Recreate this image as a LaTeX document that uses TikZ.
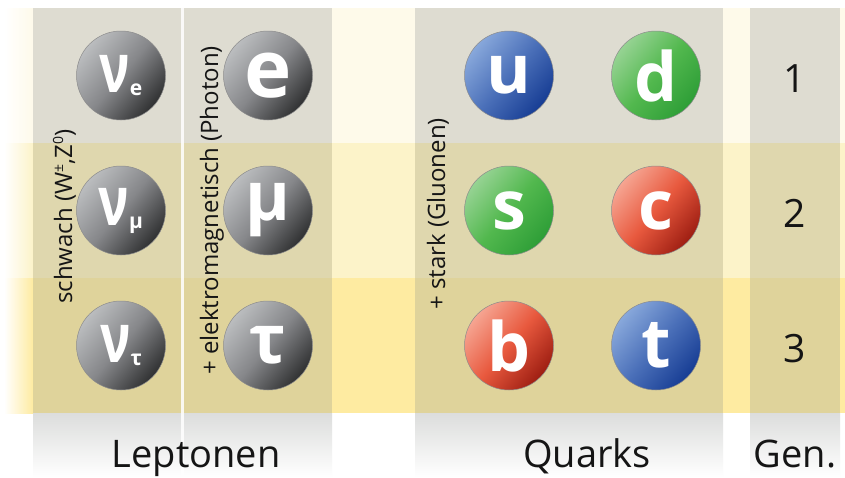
\documentclass[tikz,border=0pt]{standalone}
\usepackage{fontspec}
\usepackage{graphicx}
\setmainfont{Open Sans}
\definecolor{bandA}{HTML}{FEFAEA}
\definecolor{bandB}{HTML}{FCF3C9}
\definecolor{bandC}{HTML}{FEEBA1}
\definecolor{colA}{HTML}{DEDCD1}
\definecolor{colB}{HTML}{DFD7AE}
\definecolor{colC}{HTML}{DFD39B}
\definecolor{hdr}{HTML}{DCDDDC}
\definecolor{grayL}{HTML}{BBBDBF}
\definecolor{grayM}{HTML}{86878A}
\definecolor{grayD}{HTML}{303132}
\definecolor{blueL}{HTML}{88A8DB}
\definecolor{blueM}{HTML}{4B70B9}
\definecolor{blueD}{HTML}{173D94}
\definecolor{greenL}{HTML}{96D393}
\definecolor{greenM}{HTML}{52B84E}
\definecolor{greenD}{HTML}{2E9E37}
\definecolor{redL}{HTML}{F6A592}
\definecolor{redM}{HTML}{E8593E}
\definecolor{redD}{HTML}{9E1E12}
\definecolor{txt}{HTML}{151515}
\newcommand{\ballsize}{\fontsize{68}{68}\selectfont\bfseries}
\newcommand{\subs}[1]{\raisebox{-3pt}{\fontsize{21}{21}\selectfont #1}}
\newcommand{\nuglyph}{\scalebox{0.75}[1]{ν}}
\newcommand{\supr}[1]{\raisebox{9pt}{\fontsize{14}{14}\selectfont #1}}
\tikzset{
  ball/.style={circle, minimum size=89pt, inner sep=0pt, draw=black!45,
    line width=0.5pt, text=white, font=\ballsize},
  grayball/.style={ball, top color=grayL, bottom color=grayD, middle color=grayM, shading angle=50},
  blueball/.style={ball, top color=blueL, bottom color=blueD, middle color=blueM, shading angle=50},
  greenball/.style={ball, top color=greenL, bottom color=greenD, middle color=greenM, shading angle=50},
  redball/.style={ball, top color=redL, bottom color=redD, middle color=redM, shading angle=50},
  gennum/.style={inner sep=0pt, text=txt, font=\fontsize{39}{39}\selectfont},
  headlabel/.style={anchor=base, inner sep=0pt, text=txt, font=\fontsize{38}{38}\selectfont},
  forcelabel/.style={rotate=90, anchor=base west, inner sep=0pt, text=txt,
    font=\fontsize{24}{24}\selectfont}
}
\begin{document}
\begin{tikzpicture}[x=1pt,y=-1pt]
\useasboundingbox (0,0) rectangle (845,477);
\fill[white] (0,0) rectangle (845,477);
% generation bands
\fill[bandA] (33,8) rectangle (845,143);
\fill[bandB] (33,143) rectangle (845,278);
\fill[bandC] (33,278) rectangle (845,413);
\shade[left color=white, right color=bandA] (4,8) rectangle (33,143);
\shade[left color=white, right color=bandB] (4,143) rectangle (33,278);
\shade[left color=white, right color=bandC] (4,278) rectangle (33,413);
% columns
\foreach \xa/\xb in {33/332, 415/723, 750/840}{
  \fill[colA] (\xa,8) rectangle (\xb,143);
  \fill[colB] (\xa,143) rectangle (\xb,278);
  \fill[colC] (\xa,278) rectangle (\xb,413);
  \shade[top color=hdr, bottom color=white] (\xa,413) rectangle (\xb,477);
}
\fill[white, opacity=0.85] (180.5,8) rectangle (183.5,477);
% leptons
\node[grayball] (nue) at (121,75.5) {\nuglyph\subs{e}};
\node[grayball] (e) at (268,75.5) {\fontsize{80}{80}\selectfont e};
\node[grayball] (numu) at (121,210.5) {\nuglyph\subs{μ}};
\node[grayball] (mu) at (268,210.5) {μ};
\node[grayball] (nutau) at (121,345.5) {\nuglyph\subs{τ}};
\node[grayball] (tau) at (268,345.5) {τ};
% quarks
\node[blueball] (u) at (509,75.5) {u};
\node[greenball] (d) at (656,75.5) {d};
\node[greenball] (s) at (509,210.5) {s};
\node[redball] (c) at (656,210.5) {c};
\node[redball] (b) at (509,345.5) {b};
\node[blueball] (t) at (656,345.5) {t};
% generations
\node[gennum] (g1) at (795,79) {1};
\node[gennum] (g2) at (795,213) {2};
\node[gennum] (g3) at (795,349) {3};
% headings
\node[headlabel] (lep) at (196,467) {Leptonen};
\node[headlabel] (qua) at (587,467) {Quarks};
\node[headlabel] (gen) at (795,467) {Gen.};
% interactions
\node[forcelabel] (weak) at (72,304) {schwach (W\supr{±},Z\supr{0})};
\node[forcelabel] (em) at (218,375) {+ elektromagnetisch (Photon)};
\node[forcelabel] (strong) at (445,310) {+ stark (Gluonen)};
\end{tikzpicture}
\end{document}
